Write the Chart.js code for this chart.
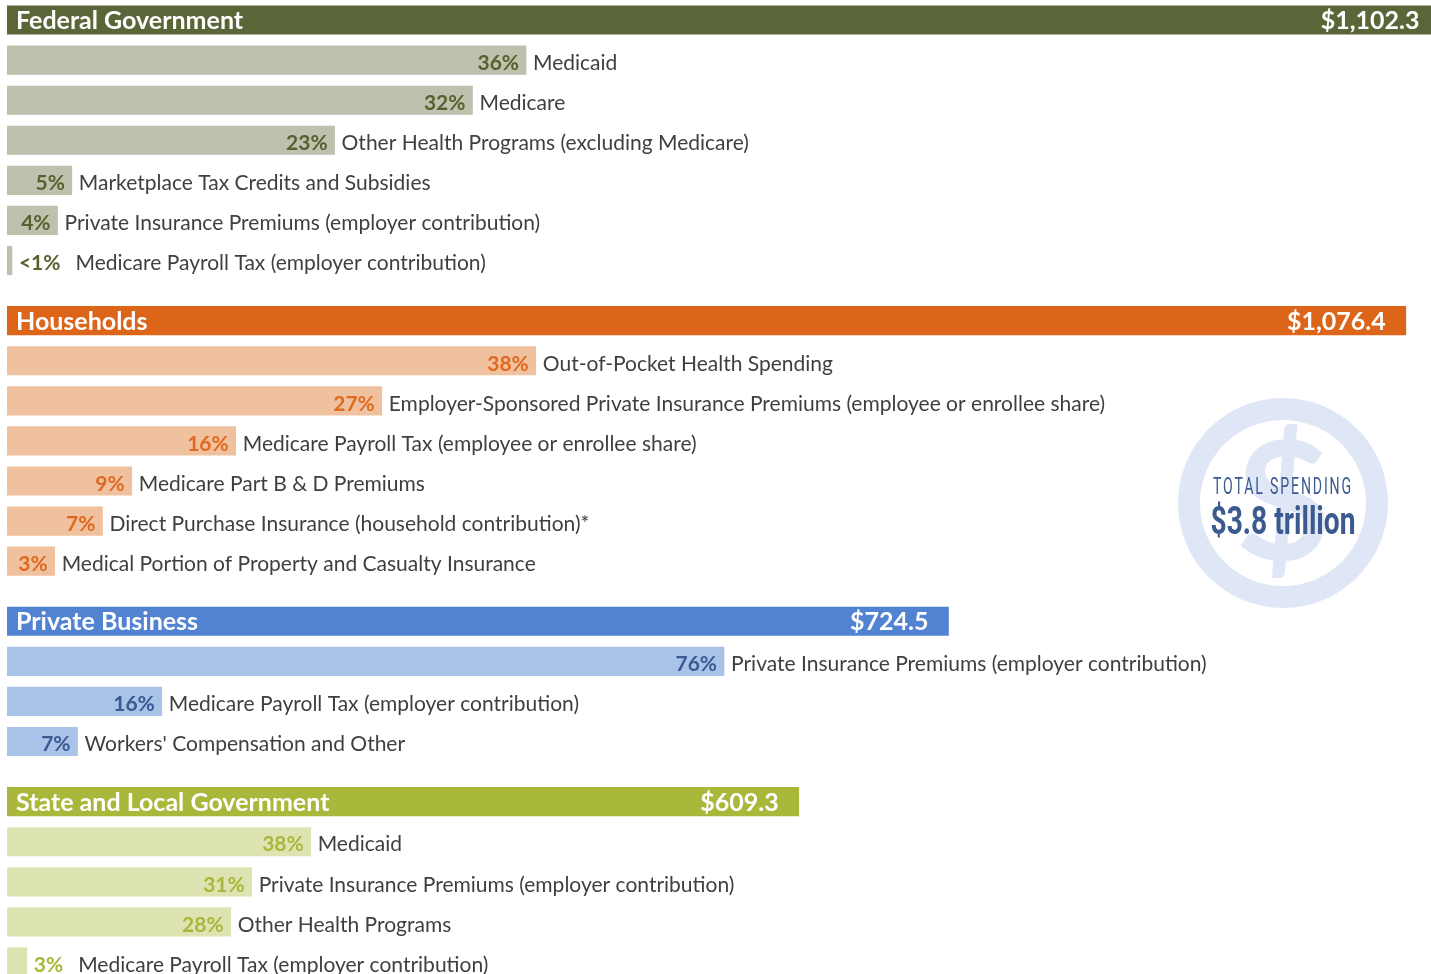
<!DOCTYPE html>
<html>
<head>
<meta charset="utf-8">
<script src="https://cdn.jsdelivr.net/npm/chart.js@4.4.1/dist/chart.umd.min.js"></script>
<style>
  html, body { margin: 0; padding: 0; background: #ffffff; }
  #wrap { width: 1431px; height: 974px; position: relative; }
</style>
</head>
<body>
<div id="wrap"><canvas id="c"></canvas></div>
<script>
// ---------- DATA ($ billions) ----------
const sections = ['Federal Government', 'Households', 'Private Business', 'State and Local Government'];
const sectionTotals = [1102.3, 1076.4, 724.5, 609.3];
const sectionTotalLabels = ['$1,102.3', '$1,076.4', '$724.5', '$609.3'];

const fedItems = ['Medicaid', 'Medicare', 'Other Health Programs (excluding Medicare)',
  'Marketplace Tax Credits and Subsidies', 'Private Insurance Premiums (employer contribution)',
  'Medicare Payroll Tax (employer contribution)'];
const fedValues = [399.4, 358.2, 252.1, 49.9, 38.9, 3.8];
const fedPct = ['36%', '32%', '23%', '5%', '4%', '<1%'];

const hhItems = ['Out-of-Pocket Health Spending',
  'Employer-Sponsored Private Insurance Premiums (employee or enrollee share)',
  'Medicare Payroll Tax (employee or enrollee share)', 'Medicare Part B & D Premiums',
  'Direct Purchase Insurance (household contribution)*', 'Medical Portion of Property and Casualty Insurance'];
const hhValues = [406.9, 288.4, 176.0, 96.0, 73.5, 36.7];
const hhPct = ['38%', '27%', '16%', '9%', '7%', '3%'];

const bizItems = ['Private Insurance Premiums (employer contribution)',
  'Medicare Payroll Tax (employer contribution)', "Workers' Compensation and Other"];
const bizValues = [551.8, 119.1, 54.3];
const bizPct = ['76%', '16%', '7%'];

const stateItems = ['Medicaid', 'Private Insurance Premiums (employer contribution)',
  'Other Health Programs', 'Medicare Payroll Tax (employer contribution)'];
const stateValues = [233.7, 188.3, 172.1, 15.2];
const statePct = ['38%', '31%', '28%', '3%'];

const totalSpendingTitle = 'TOTAL SPENDING';
const totalSpendingValue = '$3.8 trillion';

// ---------- STYLES ----------
const headerColors = ['#5b6638', '#dc6519', '#5283d2', '#a9b83b'];
const subColors    = ['#bdc1ae', '#f0c19f', '#a9c2e8', '#dde3b1'];
const pctColors    = ['#56612f', '#e0691f', '#3b5a92', '#a9b83b'];
const labelColor = '#3f3f3f';
const badgeColor = '#dfe7f6';
const badgeText = '#3b5a8f';
const FONT = 'Lato, "Open Sans", sans-serif';

// ---------- BUILD ROWS ----------
const groups = [
  { items: fedItems, values: fedValues, pct: fedPct },
  { items: hhItems, values: hhValues, pct: hhPct },
  { items: bizItems, values: bizValues, pct: bizPct },
  { items: stateItems, values: stateValues, pct: statePct }
];
const rows = [];
let pos = 0;
groups.forEach((g, s) => {
  rows.push({ type: 'header', section: s, value: sectionTotals[s], name: sections[s], label: sectionTotalLabels[s], pos: pos });
  g.values.forEach((v, i) => {
    pos += 1;
    rows.push({ type: 'sub', section: s, value: v, name: g.items[i], label: g.pct[i], pos: pos });
  });
  pos += 1.5;
});

const data = rows.map(r => ({ x: r.value, y: r.pos }));
const colors = rows.map(r => r.type === 'header' ? headerColors[r.section] : subColors[r.section]);

const labelPlugin = {
  id: 'rowLabels',
  afterDatasetsDraw(chart) {
    const ctx = chart.ctx;
    const meta = chart.getDatasetMeta(0);
    ctx.save();
    meta.data.forEach((bar, i) => {
      const r = rows[i];
      const left = bar.base;
      const right = bar.x;
      ctx.textBaseline = 'middle';
      if (r.type === 'header') {
        const cy = bar.y + 1;
        ctx.fillStyle = '#ffffff';
        ctx.font = 'bold 25px ' + FONT;
        ctx.textAlign = 'left';
        ctx.fillText(r.name, left + 9, cy);
        ctx.textAlign = 'right';
        ctx.fillText(r.label, right - 20, cy);
      } else {
        const cy = bar.y + 3;
        ctx.font = 'bold 21px ' + FONT;
        const pw = ctx.measureText(r.label).width;
        let textEnd;
        ctx.fillStyle = pctColors[r.section];
        if (right - left >= pw + 14) {
          ctx.textAlign = 'right';
          ctx.fillText(r.label, right - 7, cy);
          textEnd = right;
        } else {
          ctx.textAlign = 'left';
          ctx.fillText(r.label, right + 7, cy);
          textEnd = right + 7 + pw + 8;
        }
        ctx.font = '21px ' + FONT;
        ctx.fillStyle = labelColor;
        ctx.textAlign = 'left';
        ctx.fillText(r.name, textEnd + 7, cy);
      }
    });
    ctx.restore();
  }
};

const badgePlugin = {
  id: 'badge',
  afterDraw(chart) {
    const ctx = chart.ctx;
    const ca = chart.chartArea;
    const cx = ca.right - 148;
    const cy = chart.scales.y.getPixelForValue(12.05);
    ctx.save();
    ctx.fillStyle = badgeColor;
    ctx.beginPath();
    ctx.arc(cx, cy, 105, 0, Math.PI * 2);
    ctx.arc(cx, cy, 83, 0, Math.PI * 2, true);
    ctx.fill();
    ctx.font = 'bold 165px ' + FONT;
    ctx.textAlign = 'center';
    ctx.textBaseline = 'middle';
    ctx.fillText('$', cx, cy + 4);

    function condensed(text, font, width, y, spacing) {
      ctx.save();
      ctx.font = font;
      ctx.letterSpacing = spacing || '0px';
      const w = ctx.measureText(text).width;
      ctx.translate(cx, y);
      ctx.scale(width / w, 1);
      ctx.fillStyle = badgeText;
      ctx.textAlign = 'center';
      ctx.textBaseline = 'alphabetic';
      ctx.fillText(text, 0, 0);
      ctx.restore();
    }
    condensed(totalSpendingTitle, '23px Roboto, ' + FONT, 140, cy - 9, '3px');
    condensed(totalSpendingValue, 'bold 39px Roboto, ' + FONT, 145, cy + 31, '0px');
    ctx.restore();
  }
};

new Chart(document.getElementById('c'), {
  type: 'bar',
  data: {
    datasets: [{
      data: data,
      backgroundColor: colors,
      borderWidth: 0,
      barThickness: 28.5
    }]
  },
  options: {
    indexAxis: 'y',
    responsive: true,
    maintainAspectRatio: false,
    animation: false,
    layout: { padding: { left: 7, right: 0, top: 0, bottom: 0 } },
    scales: {
      x: { type: 'linear', min: 0, max: 1095.8, display: false },
      y: { type: 'linear', min: -0.5, max: 23.8, reverse: true, offset: false, display: false, grid: { offset: false } }
    },
    plugins: {
      legend: { display: false },
      tooltip: { enabled: false },
      title: { display: false }
    }
  },
  plugins: [labelPlugin, badgePlugin]
});
</script>
</body>
</html>
